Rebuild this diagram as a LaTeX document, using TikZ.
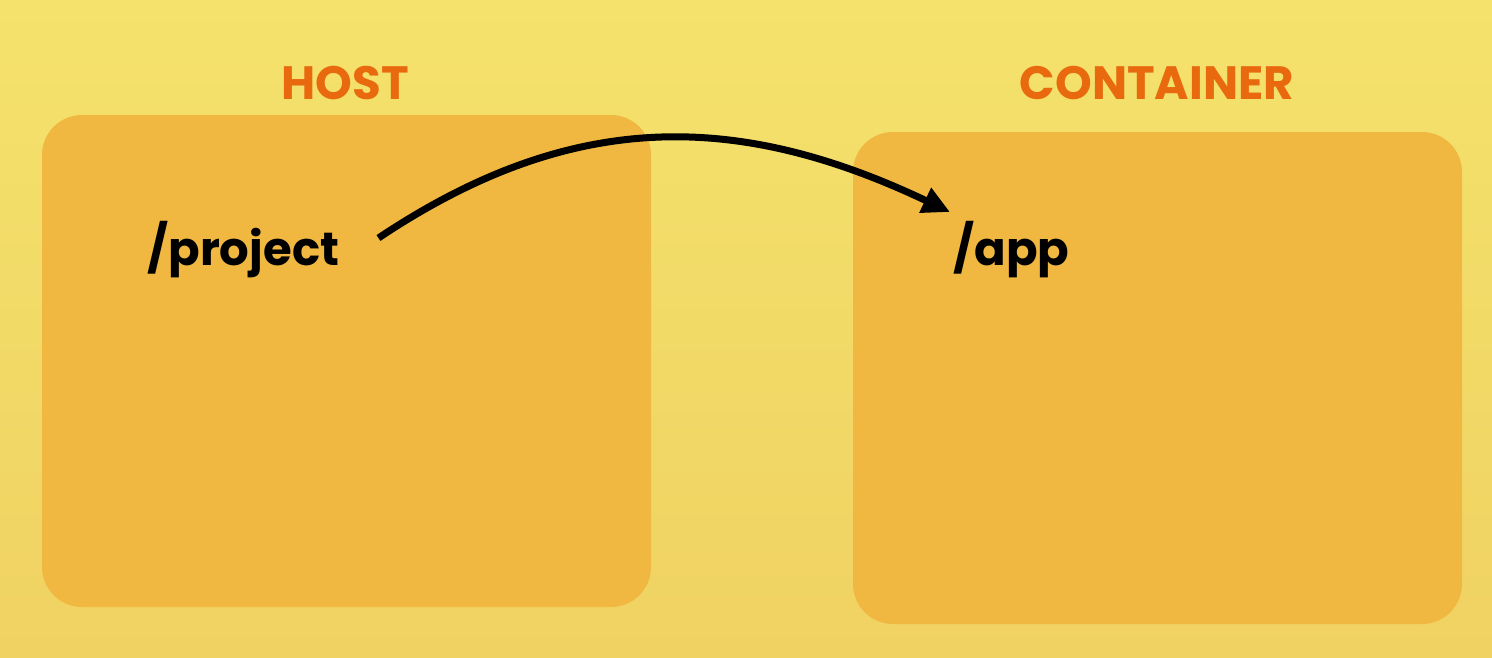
\documentclass[tikz,border=0pt]{standalone}
\usepackage{fontspec}
\setmainfont{Poppins}
\usetikzlibrary{arrows.meta}
\definecolor{bgtop}{HTML}{F4E26C}
\definecolor{bgbot}{HTML}{F0D262}
\definecolor{boxfill}{HTML}{F0B841}
\definecolor{titleor}{HTML}{E8690E}
\begin{document}
\begin{tikzpicture}[x=0.02cm,y=-0.02cm,
  panel/.style={fill=boxfill,rounded corners=0.8cm},
  title/.style={text=titleor,font=\bfseries\fontsize{26.6}{32}\selectfont,inner sep=0pt},
  dir/.style={text=black,font=\bfseries\fontsize{26.5}{32}\selectfont,inner sep=0pt,anchor=base west},
  link/.style={line width=0.14cm,-{Triangle[length=0.55cm,width=0.52cm]}}]
\useasboundingbox (0,0) rectangle (1492,657);
\shade[top color=bgtop,bottom color=bgbot] (0,0) rectangle (1492,657);
\fill[panel] (42,115) rectangle (651,607);
\fill[panel] (853,132) rectangle (1462,624);
\node[title] (host) at (345,83) {HOST};
\node[title] (cont) at (1157,83) {CONTAINER};
\node[dir] (project) at (147,265) {/project};
\node[dir] (app) at (953,265) {/app};
\coordinate (s) at ([shift={(39,-27)}]project.base east);
\coordinate (e) at ([shift={(-3,-53)}]app.base west);
\draw[link] (s) .. controls (570,110) and (735,110) .. (e);
\end{tikzpicture}
\end{document}
